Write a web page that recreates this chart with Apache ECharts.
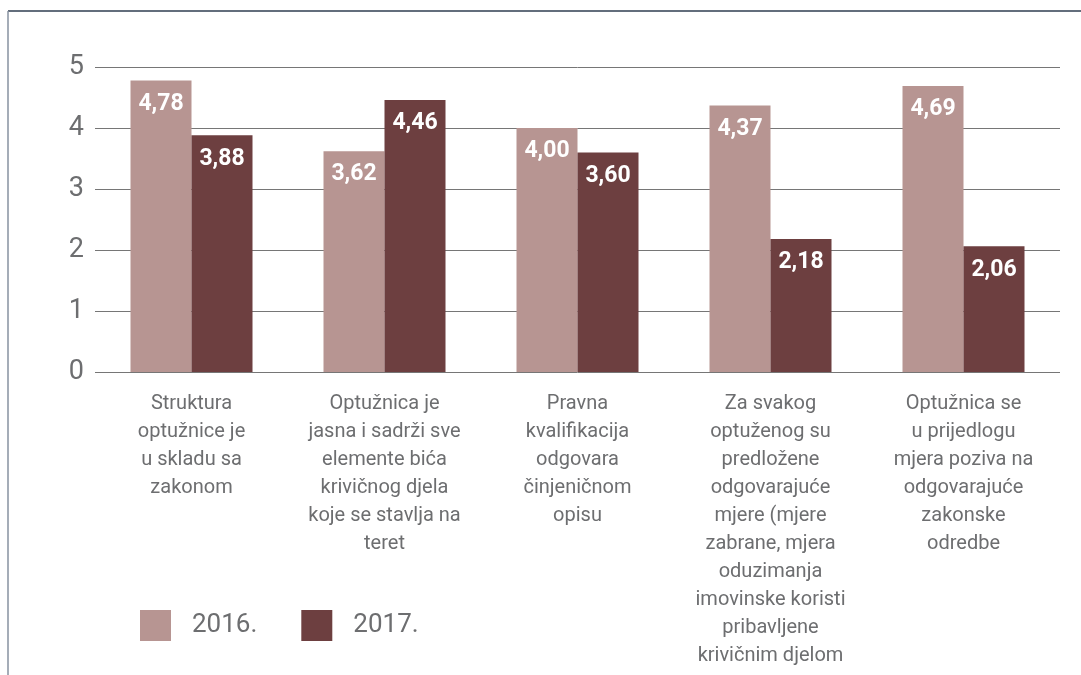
<!DOCTYPE html>
<html>
<head>
<meta charset="utf-8">
<script src="https://cdn.jsdelivr.net/npm/echarts@6/dist/echarts.min.js"></script>
<style>
  html, body { margin: 0; padding: 0; background: #fff; }
  #chart { width: 1081px; height: 675px; }
</style>
</head>
<body>
<div id="chart"></div>
<script>
var categories = [
    'Struktura\noptužnice je\nu skladu sa\nzakonom',
    'Optužnica je\njasna i sadrži sve\nelemente bića\nkrivičnog djela\nkoje se stavlja na\nteret',
    'Pravna\nkvalifikacija\nodgovara\nčinjeničnom\nopisu',
    'Za svakog\noptuženog su\npredložene\nodgovarajuće\nmjere (mjere\nzabrane, mjera\noduzimanja\nimovinske koristi\npribavljene\nkrivičnim djelom',
    'Optužnica se\nu prijedlogu\nmjera poziva na\nodgovarajuće\nzakonske\nodredbe'
]
var values2016 = [4.78, 3.62, 4.00, 4.37, 4.69]
var values2017 = [3.88, 4.46, 3.60, 2.18, 2.06]

var myChart = echarts.init(document.getElementById('chart'))

// oznake s decimalnim zarezom
function fmt (p) {
    return p.value.toFixed(2).replace('.', ',')
}

var barLabel = {
    show: true,
    position: 'insideTop',
    distance: 12,
    color: '#fff',
    fontSize: 23,
    fontWeight: 'bold',
    fontFamily: 'Roboto',
    formatter: fmt
}

var option = {
    animation: false,
    grid: {
        left: 95,
        right: 21,
        top: 67,
        bottom: 303
    },
    legend: {
        left: 140,
        top: 610,
        padding: 0,
        itemWidth: 31,
        itemHeight: 31,
        itemGap: 44,
        icon: 'rect',
        textStyle: {
            color: '#6d6e70',
            fontSize: 26,
            fontFamily: 'Roboto',
            padding: [0, 0, 0, 16]
        },
        data: ['2016.', '2017.']
    },
    xAxis: {
        type: 'category',
        data: categories,
        axisLine: { show: false },
        axisTick: { show: false },
        axisLabel: {
            interval: 0,
            margin: 18,
            color: '#6d6e70',
            fontSize: 20,
            lineHeight: 28,
            fontFamily: 'Roboto',
            verticalAlign: 'top'
        }
    },
    yAxis: {
        type: 'value',
        min: 0,
        max: 5,
        interval: 1,
        axisLine: { show: false },
        axisTick: { show: false },
        axisLabel: {
            margin: 11,
            color: '#6d6e70',
            fontSize: 27,
            fontFamily: 'Roboto'
        },
        splitLine: {
            lineStyle: { color: '#767676', width: 1 }
        }
    },
    series: [{
        name: '2016.',
        type: 'bar',
        data: values2016,
        barWidth: 61,
        barGap: '0%',
        itemStyle: { color: '#b79592' },
        label: barLabel
    }, {
        name: '2017.',
        type: 'bar',
        data: values2017,
        barWidth: 61,
        itemStyle: { color: '#6d3f40' },
        label: barLabel
    }],
    graphic: [{
        type: 'line',
        shape: { x1: 8, y1: 11, x2: 1081, y2: 11 },
        style: { stroke: '#2f3e50', lineWidth: 1.5 }
    }, {
        type: 'line',
        shape: { x1: 8, y1: 11, x2: 8, y2: 675 },
        style: { stroke: '#8792a0', lineWidth: 1.5 }
    }]
}

myChart.setOption(option)
</script>
</body>
</html>
